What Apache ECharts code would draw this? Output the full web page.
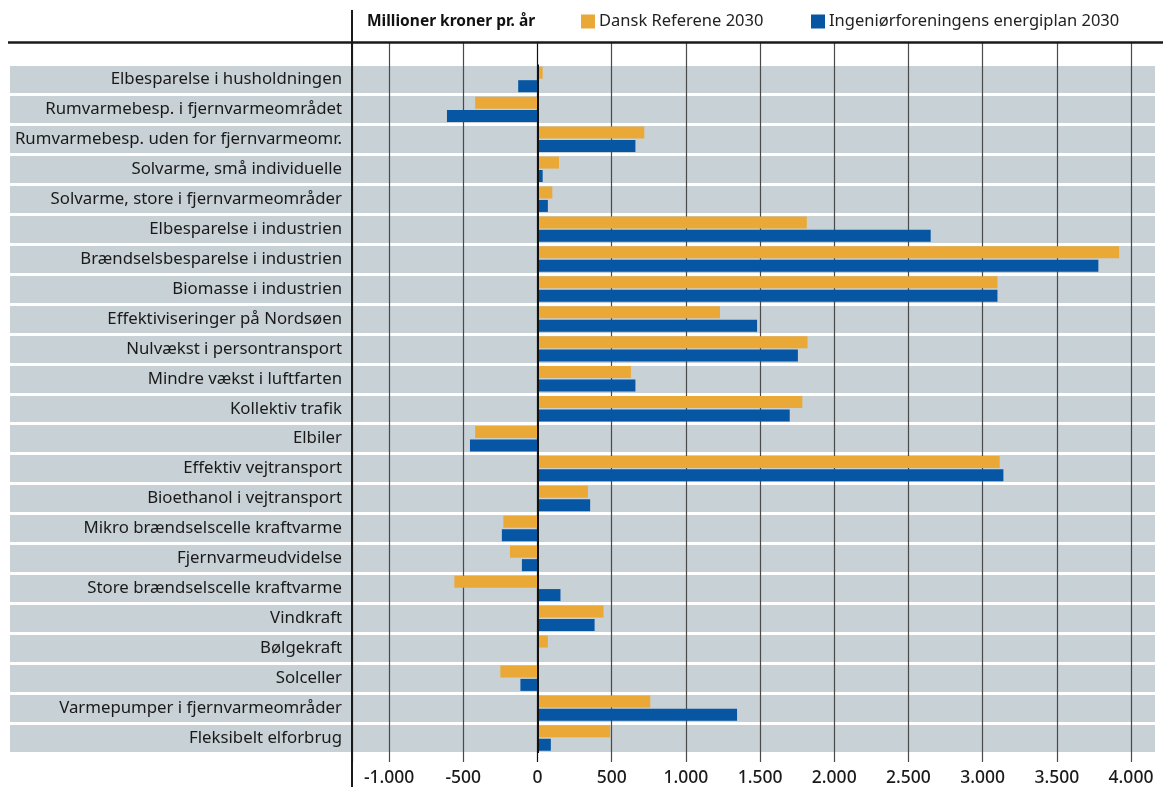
<!DOCTYPE html>
<html>
<head>
<meta charset="utf-8">
<title>Millioner kroner pr. år</title>
<script src="https://cdn.jsdelivr.net/npm/echarts@6/dist/echarts.min.js"></script>
<style>
  html, body { margin: 0; padding: 0; background: #ffffff; }
  #chart { width: 1163px; height: 787px; }
</style>
</head>
<body>
<div id="chart"></div>
<script>
// Tiltag, listet fra toppen og ned
const categories = [
  'Elbesparelse i husholdningen',
  'Rumvarmebesp. i fjernvarmeområdet',
  'Rumvarmebesp. uden for fjernvarmeomr.',
  'Solvarme, små individuelle',
  'Solvarme, store i fjernvarmeområder',
  'Elbesparelse i industrien',
  'Brændselsbesparelse i industrien',
  'Biomasse i industrien',
  'Effektiviseringer på Nordsøen',
  'Nulvækst i persontransport',
  'Mindre vækst i luftfarten',
  'Kollektiv trafik',
  'Elbiler',
  'Effektiv vejtransport',
  'Bioethanol i vejtransport',
  'Mikro brændselscelle kraftvarme',
  'Fjernvarmeudvidelse',
  'Store brændselscelle kraftvarme',
  'Vindkraft',
  'Bølgekraft',
  'Solceller',
  'Varmepumper i fjernvarmeområder',
  'Fleksibelt elforbrug'
];

// Millioner kroner pr. år
const danskReference = [35, -420, 720, 145, 100, 1815, 3920, 3100, 1230, 1820, 630, 1785, -420, 3115, 340, -230, -185, -560, 445, 70, -250, 760, 490];
const ingenioerPlan  = [-130, -610, 660, 35, 70, 2650, 3780, 3100, 1480, 1755, 660, 1700, -455, 3140, 355, -240, -105, 155, 385, 0, -115, 1345, 90];

const seriesNames = ['Dansk Referene 2030', 'Ingeniørforeningens energiplan 2030'];
const unitLabel = 'Millioner kroner pr. år';

// Værdiaksens udstrækning og trin
const axisMin = -1250;
const axisMax = 4000;
const axisStep = 500;

const ORANGE = '#EAA936';
const BLUE = '#0756A3';
const BAND = '#C8D1D6';
const FONT = '"Noto Sans", "Open Sans", sans-serif';

// Tusindtalsseparator med punktum
function fmt(v) {
  const s = Math.abs(v).toString().replace(/\B(?=(\d{3})+(?!\d))/g, '.');
  return (v < 0 ? '-' : '') + s;
}

const chart = echarts.init(document.getElementById('chart'), null, { renderer: 'canvas' });

const plotTop = 64.5, plotBottom = 34;

chart.setOption({
  animation: false,
  backgroundColor: '#ffffff',
  textStyle: { fontFamily: FONT },
  title: {
    text: unitLabel,
    left: 362, top: 9,
    textStyle: { fontFamily: FONT, fontSize: 15.5, fontWeight: 'bold', color: '#111' }
  },
  legend: [
    {
      data: [seriesNames[0]], left: 576, top: 8,
      icon: 'rect', itemWidth: 14, itemHeight: 14, itemGap: 6,
      textStyle: { fontFamily: FONT, fontSize: 16.5, color: '#222', padding: [0, 0, 0, -1] }
    },
    {
      data: [seriesNames[1]], left: 806, top: 8,
      icon: 'rect', itemWidth: 14, itemHeight: 14, itemGap: 6,
      textStyle: { fontFamily: FONT, fontSize: 16.5, color: '#222', padding: [0, 0, 0, -1] }
    }
  ],
  grid: [
    // 0: lodrette hjælpelinjer og tal på værdiaksen
    { left: 352, right: 32, top: 42, bottom: 25 },
    // 1: grå rækkebånd bag hele figuren
    { left: 10, right: 8, top: plotTop, bottom: plotBottom },
    // 2: søjlerne
    { left: 352, right: 32, top: plotTop, bottom: plotBottom }
  ],
  xAxis: [
    {
      gridIndex: 0, type: 'value', min: axisMin, max: axisMax,
      minInterval: axisStep, maxInterval: axisStep, z: 1,
      axisLine: { show: false }, axisTick: { show: false },
      axisLabel: {
        showMinLabel: false, margin: 7,
        fontFamily: FONT, fontSize: 17.5, fontWeight: 500, color: '#1a1a1a',
        formatter: fmt
      },
      splitLine: {
        show: true,
        lineStyle: {
          color: ['#4a4a4a', '#4a4a4a', '#4a4a4a', '#111111', '#4a4a4a', '#4a4a4a',
                  '#4a4a4a', '#4a4a4a', '#4a4a4a', '#4a4a4a', '#4a4a4a', '#4a4a4a'],
          width: 1.2
        }
      }
    },
    { gridIndex: 1, type: 'value', show: false },
    { gridIndex: 2, type: 'value', min: axisMin, max: axisMax, show: false }
  ],
  yAxis: [
    { gridIndex: 0, type: 'value', show: false },
    {
      gridIndex: 1, type: 'category', data: categories, inverse: true, z: 0,
      axisLine: { show: false }, axisTick: { show: false }, axisLabel: { show: false },
      splitArea: { show: true, areaStyle: { color: [BAND, BAND] } },
      splitLine: { show: true, lineStyle: { color: '#ffffff', width: 3 } }
    },
    {
      gridIndex: 2, type: 'category', data: categories, inverse: true,
      axisLine: { show: false }, axisTick: { show: false },
      splitLine: { show: false },
      axisLabel: { margin: 10, fontFamily: FONT, fontSize: 16.8, color: '#1a1a1a' }
    }
  ],
  series: [
    {
      name: seriesNames[0], type: 'bar', xAxisIndex: 2, yAxisIndex: 2,
      data: danskReference, barWidth: 12, barGap: '12%', z: 3,
      itemStyle: { color: ORANGE },
      markLine: {
        silent: true, symbol: 'none', label: { show: false },
        lineStyle: { color: '#111', width: 2, type: 'solid' },
        data: [{ xAxis: 0 }]
      }
    },
    {
      name: seriesNames[1], type: 'bar', xAxisIndex: 2, yAxisIndex: 2,
      data: ingenioerPlan, barWidth: 12, barGap: '12%', z: 3,
      itemStyle: { color: BLUE }
    }
  ],
  graphic: [
    // Lodret skillelinje mellem tekster og figur
    {
      type: 'line', z: 10, silent: true,
      shape: { x1: 352, y1: 10, x2: 352, y2: 787 },
      style: { stroke: '#1a1a1a', lineWidth: 2 }
    },
    // Vandret linje under overskriftsrækken
    {
      type: 'line', z: 10, silent: true,
      shape: { x1: 8, y1: 42.5, x2: 1163, y2: 42.5 },
      style: { stroke: '#1a1a1a', lineWidth: 2.5 }
    }
  ]
});
</script>
</body>
</html>
